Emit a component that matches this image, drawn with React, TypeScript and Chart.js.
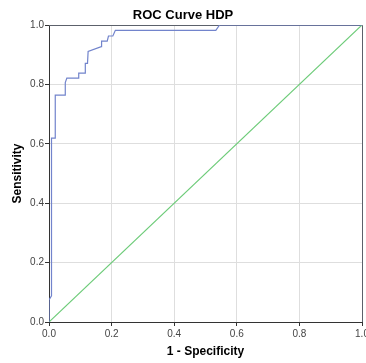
import React, { useEffect, useRef } from "react";
import { Chart, registerables } from "chart.js";

Chart.register(...registerables);

const chartTitle = "ROC Curve HDP";
const xAxisTitle = "1 - Specificity";
const yAxisTitle = "Sensitivity";
const tickValues = [0, 0.2, 0.4, 0.6, 0.8, 1.0];

// ROC curve (1 - specificity, sensitivity)
const rocX = [0, 0, 0.008, 0.008, 0.020, 0.020, 0.052, 0.052, 0.057, 0.095, 0.095, 0.116, 0.116, 0.123, 0.125, 0.167, 0.168, 0.186, 0.190, 0.204, 0.212, 0.533, 0.545, 1.0];
const rocY = [0, 0.074, 0.088, 0.619, 0.619, 0.764, 0.764, 0.806, 0.821, 0.821, 0.838, 0.838, 0.871, 0.871, 0.911, 0.927, 0.946, 0.946, 0.963, 0.963, 0.982, 0.982, 1.0, 1.0];

// Reference diagonal
const refX = [0, 1];
const refY = [0, 1];

const frameTitlePlugin = {
  id: "frameTitle",
  beforeDatasetsDraw(chart: any) {
    const { ctx, chartArea } = chart;
    ctx.save();
    ctx.strokeStyle = "#5c616b";
    ctx.lineWidth = 1;
    ctx.beginPath();
    ctx.moveTo(chartArea.left, chartArea.top + 0.5);
    ctx.lineTo(chartArea.right + 0.5, chartArea.top + 0.5);
    ctx.lineTo(chartArea.right + 0.5, chartArea.bottom);
    ctx.stroke();
    ctx.restore();
  },
  afterDraw(chart: any) {
    const { ctx } = chart;
    ctx.save();
    ctx.fillStyle = "#000";
    ctx.font = "bold 13px 'Liberation Sans', Arial, sans-serif";
    ctx.textAlign = "center";
    ctx.textBaseline = "middle";
    ctx.fillText(chartTitle, 183, 15);
    ctx.restore();
  },
};

export default function App() {
  const ref = useRef<HTMLCanvasElement | null>(null);
  useEffect(() => {
    if (!ref.current) return;
    const font = "'Liberation Sans', Arial, sans-serif";
    const chart = new Chart(ref.current, {
      type: "line",
      data: {
        datasets: [
          {
            label: "ROC",
            data: rocX.map((x, i) => ({ x, y: rocY[i] })),
            borderColor: "#7284cc",
            borderWidth: 1.2,
            pointRadius: 0,
            tension: 0,
            fill: false,
          },
          {
            label: "Reference",
            data: refX.map((x, i) => ({ x, y: refY[i] })),
            borderColor: "#6ccb78",
            borderWidth: 1.2,
            pointRadius: 0,
            tension: 0,
            fill: false,
          },
        ],
      },
      options: {
        responsive: false,
        animation: false,
        layout: { padding: { top: 25, right: 4, left: 0, bottom: 0 } },
        plugins: {
          legend: { display: false },
          tooltip: { enabled: false },
          title: { display: false },
        },
        scales: {
          x: {
            type: "linear",
            min: 0,
            max: 1,
            afterBuildTicks: (s: any) => {
              s.ticks = tickValues.map((v) => ({ value: v }));
            },
            afterFit: (s: any) => {
              s.height = 41;
              s.paddingRight = 0;
              s.paddingLeft = 0;
            },
            ticks: {
              callback: (v: any) => Number(v).toFixed(1),
              font: { family: font, size: 10 },
              color: "#444",
              padding: 2,
              maxRotation: 0,
              autoSkip: false,
            },
            grid: { color: "#dedede", tickColor: "#333", tickLength: 4, lineWidth: 1 },
            border: { color: "#333", width: 1 },
            title: {
              display: true,
              text: xAxisTitle,
              color: "#000",
              font: { family: font, size: 12, weight: "bold" },
              padding: { top: 0, bottom: 4 },
            },
          },
          y: {
            type: "linear",
            min: 0,
            max: 1,
            afterBuildTicks: (s: any) => {
              s.ticks = tickValues.map((v) => ({ value: v }));
            },
            afterFit: (s: any) => {
              s.width = 49;
              s.paddingTop = 0;
              s.paddingBottom = 0;
            },
            ticks: {
              callback: (v: any) => Number(v).toFixed(1),
              font: { family: font, size: 10 },
              color: "#444",
              padding: 1,
              autoSkip: false,
            },
            grid: { color: "#dedede", tickColor: "#333", tickLength: 4, lineWidth: 1 },
            border: { color: "#333", width: 1 },
            title: {
              display: true,
              text: yAxisTitle,
              color: "#000",
              font: { family: font, size: 12, weight: "bold" },
              padding: { top: 10, bottom: 0 },
            },
          },
        },
      },
      plugins: [frameTitlePlugin],
    } as any);
    return () => chart.destroy();
  }, []);
  return (
    <div style={{ position: "fixed", left: 0, top: 0, width: 366, height: 363, background: "#fff" }}>
      <canvas ref={ref} width={366} height={363} style={{ display: "block" }} />
    </div>
  );
}
